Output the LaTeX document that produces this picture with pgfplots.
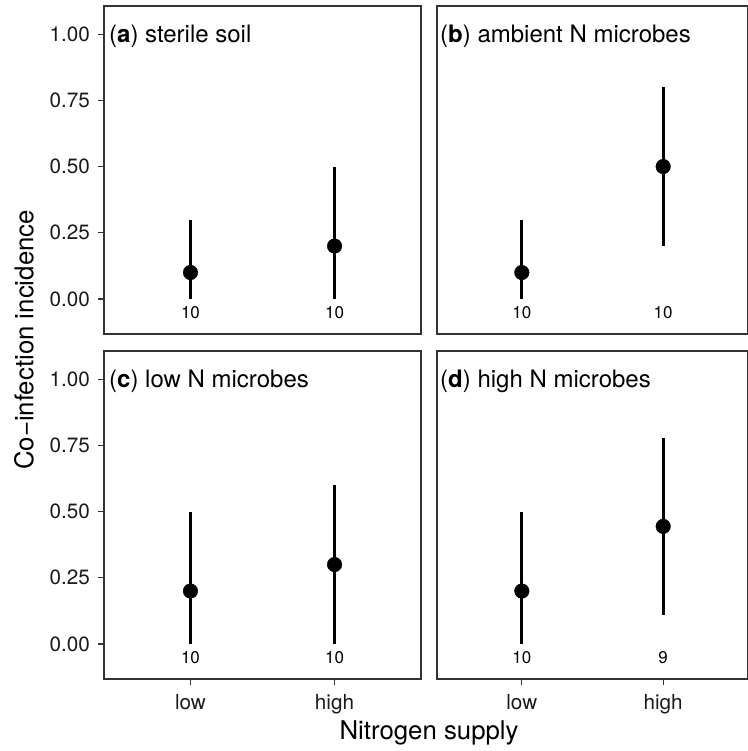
\documentclass[border=0pt]{standalone}
\usepackage{pgfplots}
\pgfplotsset{compat=1.18}
\usepackage{fontspec}
\setmainfont{TeX Gyre Heros}
\definecolor{frame}{HTML}{333333}
\definecolor{ticktext}{HTML}{1A1A1A}
\newcommand{\tickfont}{\fontsize{20.7bp}{24bp}\selectfont}
\newcommand{\panelfont}{\fontsize{24bp}{28bp}\selectfont}
\newcommand{\nfont}{\fontsize{17bp}{20bp}\selectfont}
\newcommand{\titlefont}{\fontsize{25.8bp}{30bp}\selectfont}
\begin{document}
\begin{tikzpicture}
\pgfplotsset{
  panel/.style={
    scale only axis, height=328bp,
    xmin=0.4, xmax=2.6, ymin=-0.132, ymax=1.106,
    axis line style={draw=frame, line width=1.1bp},
    tick style={draw=frame, line width=1.1bp},
    tick align=outside, major tick length=6bp, tick pos=left,
    clip=false, anchor=south west,
    ticklabel style={font=\tickfont, text=ticktext},
    /pgf/number format/assume math mode=true,
  },
  left/.style={width=317bp, ytick={0,0.25,0.5,0.75,1}, yticklabels={0.00,0.25,0.50,0.75,1.00},
     yticklabel style={inner sep=0pt, xshift=-8bp}},
  right/.style={width=311bp, ytick=\empty},
  top/.style={xtick=\empty},
  bottom/.style={xtick={1,2}, xticklabels={low,high}, xticklabel style={inner sep=0pt, yshift=-9bp}},
  pts/.style={only marks, mark=*, mark size=7.3bp, black,
    error bars/.cd, y dir=both, y explicit, error mark=none,
    error bar style={line width=3bp, black}},
  nlab/.style={draw=none, mark=none, nodes near coords, point meta=explicit symbolic,
    nodes near coords align=center,
    every node near coord/.style={font=\nfont, text=black, anchor=center, inner sep=0pt}},
}
% (a)
\begin{axis}[panel, left, top, at={(104bp,417bp)}]
\addplot[pts] coordinates {(1,0.1) += (0,0.2) -= (0,0.1) (2,0.2) += (0,0.3) -= (0,0.2)};
\addplot[nlab] coordinates {(1,-0.05)[10] (2,-0.05)[10]};
\node[anchor=base west, inner sep=0pt, font=\panelfont] at (rel axis cs:0,1) [xshift=5bp, yshift=-36.3bp] {(\textbf{a}) sterile soil};
\end{axis}
% (b)
\begin{axis}[panel, right, top, at={(437bp,417bp)}]
\addplot[pts] coordinates {(1,0.1) += (0,0.2) -= (0,0.1) (2,0.5) += (0,0.3) -= (0,0.3)};
\addplot[nlab] coordinates {(1,-0.05)[10] (2,-0.05)[10]};
\node[anchor=base west, inner sep=0pt, font=\panelfont] at (rel axis cs:0,1) [xshift=3bp, yshift=-36.3bp] {(\textbf{b}) ambient N microbes};
\end{axis}
% (c)
\begin{axis}[panel, left, bottom, at={(104bp,72bp)}]
\addplot[pts] coordinates {(1,0.2) += (0,0.3) -= (0,0.2) (2,0.3) += (0,0.3) -= (0,0.3)};
\addplot[nlab] coordinates {(1,-0.05)[10] (2,-0.05)[10]};
\node[anchor=base west, inner sep=0pt, font=\panelfont] at (rel axis cs:0,1) [xshift=5bp, yshift=-36.3bp] {(\textbf{c}) low N microbes};
\end{axis}
% (d)
\begin{axis}[panel, right, bottom, at={(437bp,72bp)}]
\addplot[pts] coordinates {(1,0.2) += (0,0.3) -= (0,0.2) (2,0.444) += (0,0.334) -= (0,0.333)};
\addplot[nlab] coordinates {(1,-0.05)[10] (2,-0.05)[9]};
\node[anchor=base west, inner sep=0pt, font=\panelfont] at (rel axis cs:0,1) [xshift=3bp, yshift=-36.3bp] {(\textbf{d}) high N microbes};
\end{axis}
\node[rotate=90, font=\titlefont, text=black, inner sep=0pt] at (24bp,411bp) {Co−infection incidence};
\node[anchor=base, font=\titlefont, text=black, inner sep=0pt] at (429bp,11.7bp) {Nitrogen supply};
\pgfresetboundingbox
\path[use as bounding box] (0,0) rectangle (748bp,751bp);
\end{tikzpicture}
\end{document}
